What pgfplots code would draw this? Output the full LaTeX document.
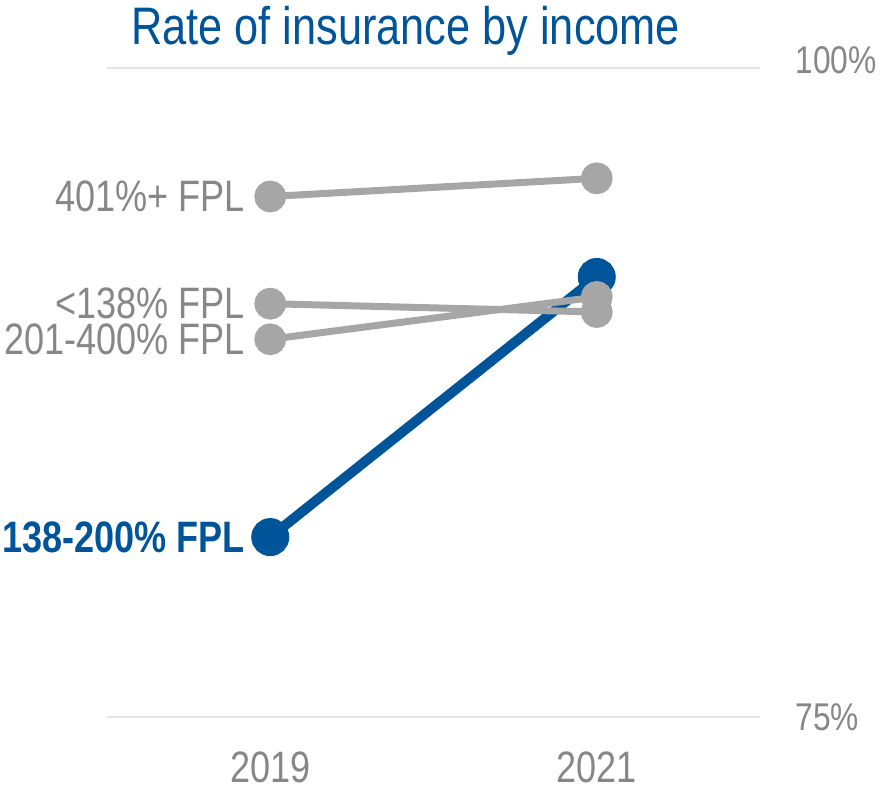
\documentclass[border=0pt]{standalone}
\usepackage{fontspec}
\setmainfont{Liberation Sans}[FakeStretch=0.82]
\usepackage{pgfplots}
\pgfplotsset{compat=1.18}
\definecolor{kblue}{HTML}{00549A}
\definecolor{kgrey}{HTML}{A6A6A6}
\definecolor{ktext}{HTML}{878787}
\definecolor{kgrid}{HTML}{E4E4E4}
\begin{document}
\begin{tikzpicture}[x=0.75pt,y=0.75pt]
\useasboundingbox (0,0) rectangle (882,791);
\begin{axis}[
  at={(80.25pt,55.5pt)}, anchor=south west,
  scale only axis, width=489.75pt, height=486.75pt,
  xmin=-0.5, xmax=1.5, ymin=75, ymax=100,
  axis line style={draw=none},
  major tick length=0pt,
  xtick={0,1}, xticklabels={2019,2021},
  ytick={75,100}, yticklabels={75\%,\raisebox{12pt}{100\%}},
  yticklabel pos=right,
  ymajorgrids, grid style={kgrid, line width=1.5pt},
  tick label style={text=ktext, inner sep=0pt},
  xticklabel style={font=\fontsize{33}{33}\selectfont, anchor=north, yshift=-26pt},
  yticklabel style={font=\fontsize{29}{29}\selectfont, anchor=west, xshift=26.5pt},
  /pgf/number format/assume math mode=true,
  clip=false,
]
\addplot[kblue, line width=7.5pt, mark=*, mark size=10.5pt, mark options={fill=kblue, draw=none}]
  coordinates {(0,81.93) (1,91.95)};
\addplot[kgrey, line width=5.25pt, mark=*, mark size=9.3pt, mark options={fill=kgrey, draw=none}]
  coordinates {(0,95.05) (1,95.75)};
\addplot[kgrey, line width=5.25pt, mark=*, mark size=9.3pt, mark options={fill=kgrey, draw=none}]
  coordinates {(0,90.92) (1,90.60)};
\addplot[kgrey, line width=5.25pt, mark=*, mark size=9.3pt, mark options={fill=kgrey, draw=none}]
  coordinates {(0,89.55) (1,91.18)};
\node[anchor=east, inner sep=0pt, xshift=-18.75pt, text=ktext, font=\fontsize{33}{33}\selectfont] at (axis cs:0,95.05) {401\%+ FPL};
\node[anchor=east, inner sep=0pt, xshift=-18.75pt, text=ktext, font=\fontsize{33}{33}\selectfont] at (axis cs:0,90.92) {<138\% FPL};
\node[anchor=east, inner sep=0pt, xshift=-18.75pt, text=ktext, font=\fontsize{33}{33}\selectfont] at (axis cs:0,89.55) {201-400\% FPL};
\node[anchor=east, inner sep=0pt, xshift=-18.75pt, text=kblue, font=\fontsize{33}{33}\selectfont\bfseries] at (axis cs:0,81.93) {138-200\% FPL};
\end{axis}
\node[anchor=base west, inner sep=0pt, text=kblue, font=\fontsize{39.6}{40}\selectfont] at (131,746) {Rate of insurance by income};
\end{tikzpicture}
\end{document}
